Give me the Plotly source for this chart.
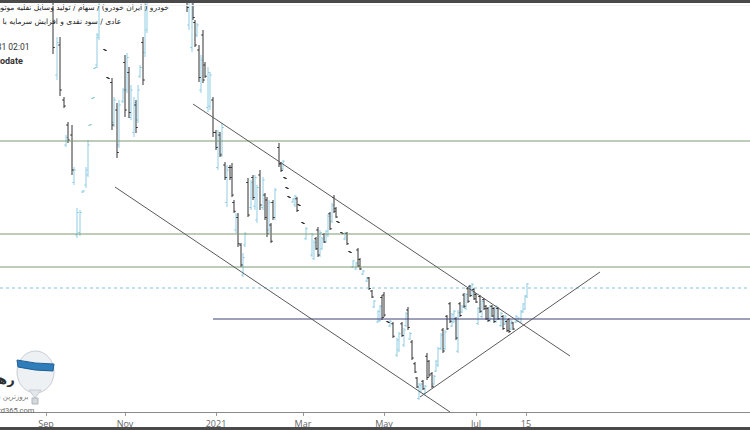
import plotly.graph_objects as go

# ---------------- data (bar index, price) ----------------
bar_x = [
    26.5, 28.5, 30, 32, 33, 34, 36, 37, 38.5, 40, 41.5, 43, 44, 45, 46.5, 47.5, 48.5, 49.5, 52.5, 54,
    56, 57, 58.5, 59.5, 61.5, 62.5, 63.5, 64.5, 65.5, 67, 68, 69, 70, 71.5, 72.5, 73.5,
    93.5, 94.5, 96, 96.5, 97.5, 98.5, 99.5, 100.5, 101.5, 102.5, 104, 105, 106.5, 108, 109, 110, 111,
    112.5, 113.5, 115, 116, 117, 118, 119, 120.5, 121.5, 122.5, 124, 125.5, 126.5, 127.5, 128.5, 130,
    131.5, 132.5, 133.5, 134.5, 135.5, 136.5, 137.5,
    139.5, 140.5, 141.5, 142.5, 143.5, 144.5, 146.5, 147.5, 148.5, 149.5, 151.5, 153, 156, 157, 158,
    159, 160, 161, 162, 163, 164, 165, 166, 167, 168, 169, 171, 172.5, 173.5, 175, 176.5, 178, 179, 180,
    181.5, 183.5, 184.5, 186, 187, 189, 190, 191, 192, 194,
    195, 196.5, 198.5, 199.5, 201, 202, 203, 204, 205, 206, 207.5, 208.5, 209.5, 210.5, 211.5, 212.5,
    213.5, 214.5, 216, 217, 218, 219, 220.5, 221.5, 222.5, 223.5, 225, 226, 227, 228, 229, 230, 231,
    232, 233, 234, 235, 236, 237, 238, 239, 240, 241, 242, 243, 244, 245, 246, 247, 248, 249, 250.5,
    251.5, 252.5, 253.5, 254.5, 255.5, 256.5, 258, 259, 260.5, 261.5, 262.5, 263.5,
]
bar_open = [
    3250, 2900, 3020, 2800, 2620, 2700, 2660, 2470, 2260, 2270, 2432, 2460, 2500, 2698, 2806, 2926, 2940, 3060, 3002, 2890,
    2870, 2710, 2760, 2620, 2795, 2950, 2840, 2910, 2730, 2670, 2780, 2720, 2895, 3030, 2990, 3080,
    3300, 3100, 3010, 3230, 3110, 3060, 3000, 2840, 3060, 2940, 2770, 2775, 2800, 2670, 2530, 2660, 2585, 2540, 2390, 2530,
    2530, 2390, 2280, 2330, 2220, 2100, 2220, 2470, 2370, 2490, 2375, 2320, 2500, 2370, 2420, 2400, 2280, 2300, 2390, 2330,
    2610, 2545, 2525, 2490, 2450, 2414, 2392, 2380, 2405, 2382, 2310, 2245, 2180, 2165, 2245, 2280, 2180, 2205, 2262, 2232,
    2260, 2345, 2315, 2410, 2365, 2314, 2270, 2244, 2266, 2194, 2132, 2124, 2200, 2162, 2104, 2076, 2088, 2036, 1972, 1912,
    1918, 2010, 2020, 1914,
    1896, 1905, 1780, 1800, 1905, 1820, 1898, 1960, 1844, 1832, 1745, 1688, 1606, 1632, 1675, 1625, 1775, 1755, 1705, 1664,
    1716, 1740, 1806, 1880, 1806, 1935, 1985, 1896, 1912, 1925, 1795, 1985, 1952, 2020, 1966, 2045, 2055, 2018, 2042, 2022,
    1906, 2014, 1934, 2002, 1975, 1966, 1918, 1975, 1966, 1914, 1966, 1898, 1934, 1904, 1914, 1922, 1884, 1908, 1912, 1915,
    1912, 1952, 1964, 2012,
]
bar_high = [
    3320, 3052, 3052, 2812, 2660, 2712, 2700, 2532, 2368, 2360, 2440, 2532, 2640, 2704, 2812, 2932, 3068, 3320, 3004, 2892,
    2888, 2812, 2788, 2800, 2848, 2980, 2988, 2932, 2860, 2812, 2800, 2860, 2940, 3052, 3280, 3360,
    3320, 3320, 3280, 3240, 3120, 3108, 3020, 2980, 3080, 2952, 2932, 2912, 2812, 2680, 2680, 2672, 2708, 2552, 2540, 2540,
    2548, 2400, 2348, 2348, 2228, 2188, 2272, 2488, 2480, 2500, 2500, 2460, 2520, 2492, 2428, 2412, 2400, 2308, 2400, 2448,
    2628, 2552, 2560, 2492, 2452, 2416, 2408, 2420, 2412, 2384, 2312, 2292, 2268, 2240, 2252, 2292, 2280, 2252, 2268, 2280,
    2344, 2352, 2388, 2420, 2372, 2316, 2272, 2272, 2272, 2196, 2160, 2152, 2208, 2168, 2120, 2092, 2092, 2040, 2000, 1960,
    1980, 2020, 2032, 1916,
    1920, 1912, 1848, 1872, 1912, 1888, 1952, 1972, 1872, 1840, 1752, 1692, 1668, 1668, 1680, 1660, 1788, 1760, 1712, 1700,
    1760, 1812, 1868, 1888, 1880, 1940, 1992, 1948, 1960, 1932, 1960, 1992, 1980, 2028, 2028, 2052, 2060, 2068, 2048, 2028,
    1972, 2020, 2000, 2008, 1980, 1972, 1980, 1980, 1972, 1980, 1972, 1952, 1940, 1940, 1920, 1928, 1920, 1912, 1940, 1932,
    1960, 1988, 2020, 2068,
]
bar_low = [
    2984, 2880, 2816, 2768, 2612, 2628, 2500, 2460, 2248, 2256, 2428, 2448, 2492, 2696, 2804, 2924, 2928, 3040, 2996, 2884,
    2680, 2692, 2568, 2608, 2788, 2732, 2828, 2728, 2720, 2652, 2668, 2708, 2888, 2860, 2972, 3068,
    3152, 3080, 2992, 3120, 3012, 3052, 2872, 2828, 2868, 2888, 2752, 2760, 2652, 2600, 2520, 2572, 2572, 2480, 2372, 2480,
    2412, 2348, 2268, 2212, 2132, 2092, 2212, 2332, 2360, 2400, 2360, 2308, 2360, 2360, 2320, 2252, 2268, 2228, 2320, 2320,
    2532, 2512, 2520, 2484, 2444, 2408, 2388, 2372, 2352, 2376, 2304, 2240, 2172, 2160, 2200, 2172, 2172, 2200, 2228, 2228,
    2252, 2280, 2308, 2348, 2328, 2308, 2264, 2240, 2220, 2188, 2128, 2120, 2132, 2120, 2100, 2072, 2040, 2008, 1968, 1908,
    1912, 1920, 1932, 1908,
    1892, 1848, 1772, 1792, 1852, 1812, 1892, 1880, 1840, 1760, 1708, 1648, 1600, 1628, 1640, 1620, 1680, 1692, 1648, 1660,
    1712, 1732, 1800, 1788, 1800, 1880, 1908, 1892, 1908, 1840, 1788, 1932, 1948, 1968, 1960, 1988, 2012, 2012, 2000, 1988,
    1900, 1948, 1928, 1960, 1920, 1912, 1912, 1932, 1908, 1908, 1920, 1892, 1880, 1900, 1872, 1868, 1880, 1880, 1908, 1912,
    1908, 1948, 1960, 2008,
]
bar_close = [
    3010, 3030, 2840, 2776, 2650, 2640, 2520, 2520, 2350, 2350, 2436, 2520, 2620, 2702, 2810, 2930, 3050, 3280, 2998, 2886,
    2700, 2800, 2590, 2780, 2840, 2760, 2970, 2750, 2840, 2790, 2690, 2840, 2930, 2880, 3250, 3340,
    3170, 3290, 3250, 3130, 3020, 3100, 2890, 2960, 2880, 2895, 2910, 2900, 2670, 2610, 2670, 2580, 2690, 2490, 2520, 2490,
    2420, 2355, 2340, 2225, 2140, 2170, 2265, 2340, 2470, 2410, 2490, 2450, 2380, 2480, 2330, 2265, 2390, 2235, 2330, 2440,
    2545, 2518, 2555, 2486, 2446, 2410, 2404, 2415, 2358, 2378, 2306, 2285, 2260, 2230, 2205, 2180, 2270, 2245, 2232, 2275,
    2335, 2285, 2380, 2355, 2332, 2310, 2266, 2268, 2225, 2190, 2156, 2148, 2136, 2124, 2116, 2088, 2046, 2012, 1996, 1955,
    1975, 1930, 1940, 1910,
    1915, 1855, 1840, 1865, 1858, 1880, 1945, 1890, 1866, 1768, 1712, 1652, 1660, 1664, 1645, 1655, 1690, 1700, 1655, 1695,
    1755, 1805, 1860, 1796, 1872, 1885, 1915, 1943, 1955, 1848, 1950, 1938, 1975, 1975, 2022, 1995, 2018, 2062, 2005, 1992,
    1966, 1955, 1994, 1965, 1925, 1918, 1974, 1936, 1914, 1975, 1925, 1946, 1886, 1935, 1878, 1874, 1915, 1884, 1935, 1928,
    1955, 1984, 2016, 2064,
]

# horizontal levels (price)
green_levels = [2636, 2264, 2132]
dotted_level = 2048
navy_level = 1924
navy_start = 106.5

# trend lines: (x0, y0) -> (x1, y1)
trend_x0 = [96.5, 57.5, 210]
trend_y0 = [2784, 2452, 1612]
trend_x1 = [285, 225, 300]
trend_y1 = [1776, 1552, 2112]

tick_pos = [23, 62.5, 108, 151.5, 192, 238, 263]
tick_text = ["Sep", "Nov", "2021", "Mar", "May", "Jul", "15"]

title_line1 = "خودرو ( ایران خودرو) / سهام / تولید وسایل نقلیه موتوری / بورس"
title_line2 = "عادی / سود نقدی و افزایش سرمایه با احتساب"

assert len(bar_x) == len(bar_open) == len(bar_high) == len(bar_low) == len(bar_close)

# ---------------- figure ----------------
W, H = 750, 430
PLOT_H = 412
X_RANGE = [0, 375]
Y_RANGE = [1552, 3200]
TICK_W = 0.9


def seg_arrays(up):
    xs, ys = [], []
    for x, o, h, l, c in zip(bar_x, bar_open, bar_high, bar_low, bar_close):
        if (c > o) != up:
            continue
        xs += [x, x, None, x - TICK_W, x, None, x, x + TICK_W, None]
        ys += [l, h, None, o, o, None, c, c, None]
    return xs, ys


fig = go.Figure()
for up, col in [(True, "#8fcde3"), (False, "#333333")]:
    xs, ys = seg_arrays(up)
    fig.add_trace(go.Scatter(x=xs, y=ys, mode="lines", line=dict(color=col, width=1),
                             hoverinfo="skip", showlegend=False))

shapes = []
for lv in green_levels:
    shapes.append(dict(type="line", xref="paper", x0=0, x1=1, yref="y", y0=lv, y1=lv,
                       line=dict(color="#7d9a72", width=1)))
shapes.append(dict(type="line", xref="paper", x0=0, x1=1, yref="y", y0=dotted_level, y1=dotted_level,
                   line=dict(color="#7cc3df", width=1, dash="dot")))
shapes.append(dict(type="line", xref="x", x0=navy_start, x1=X_RANGE[1], yref="y", y0=navy_level, y1=navy_level,
                   line=dict(color="#3e4178", width=1)))
for a, b, c, d in zip(trend_x0, trend_y0, trend_x1, trend_y1):
    shapes.append(dict(type="line", xref="x", yref="y", x0=a, y0=b, x1=c, y1=d,
                       line=dict(color="#5a5a5a", width=1)))


def px(xp):
    return xp / W


def py(yp):
    return 1 - yp / PLOT_H


# logo balloon
shapes.append(dict(type="circle", xref="paper", yref="paper", x0=px(17), x1=px(54), y0=py(393), y1=py(351),
                   fillcolor="#eef1f4", line=dict(color="#c8cdd3", width=1)))
band = "M {} {} Q {} {} {} {} L {} {} Q {} {} {} {} Z".format(
    px(17), py(360), px(35), py(364), px(54), py(364),
    px(53), py(371), px(35), py(371), px(18), py(367))
shapes.append(dict(type="path", xref="paper", yref="paper", path=band,
                   fillcolor="#2f7dba", line=dict(color="#1f5f95", width=1)))
tail = "M {} {} L {} {} L {} {} Z".format(px(29), py(390), px(41), py(390), px(35), py(398))
shapes.append(dict(type="path", xref="paper", yref="paper", path=tail,
                   fillcolor="#e3e7eb", line=dict(color="#c8cdd3", width=1)))
shapes.append(dict(type="rect", xref="paper", yref="paper", x0=px(32), x1=px(38), y0=py(404), y1=py(398),
                   fillcolor="#d5d9de", line=dict(color="#b0b5bb", width=1)))

annotations = [
    dict(text=title_line1, xref="paper", yref="paper", x=px(171), y=py(8), xanchor="right", yanchor="middle",
         showarrow=False, font=dict(family="DejaVu Sans", size=7.5, color="#222")),
    dict(text=title_line2, xref="paper", yref="paper", x=px(123), y=py(22), xanchor="right", yanchor="middle",
         showarrow=False, font=dict(family="DejaVu Sans", size=7.5, color="#222")),
    dict(text="1400/05/31 02:01", xref="paper", yref="paper", x=px(32), y=py(47), xanchor="right",
         yanchor="middle", showarrow=False, font=dict(family="Roboto", size=8.5, color="#333")),
    dict(text="<b>Autodate</b>", xref="paper", yref="paper", x=px(25), y=py(61), xanchor="right",
         yanchor="middle", showarrow=False, font=dict(family="Roboto", size=9, color="#333")),
    dict(text="<b>رهآورد</b>", xref="paper", yref="paper", x=px(17), y=py(379), xanchor="right",
         yanchor="middle", showarrow=False, font=dict(family="DejaVu Sans", size=13, color="#2e2e2e")),
    dict(text="بروزترین سامانه", xref="paper", yref="paper", x=px(31), y=py(397), xanchor="right",
         yanchor="middle", showarrow=False, font=dict(family="DejaVu Sans", size=7, color="#777")),
    dict(text="rahavard365.com", xref="paper", yref="paper", x=px(37), y=py(410), xanchor="right",
         yanchor="middle", showarrow=False, font=dict(family="Roboto", size=7.5, color="#666")),
]

fig.update_layout(
    width=W, height=H,
    margin=dict(l=0, r=0, t=0, b=H - PLOT_H),
    paper_bgcolor="white", plot_bgcolor="white",
    showlegend=False,
    shapes=shapes, annotations=annotations,
    xaxis=dict(range=X_RANGE, showgrid=False, zeroline=False, showline=True, linecolor="#8a8a8a",
               linewidth=1, ticks="outside", ticklen=3, tickcolor="#9a9a9a",
               tickvals=tick_pos, ticktext=tick_text,
               tickfont=dict(family="Open Sans", size=9, color="#666"), fixedrange=True),
    yaxis=dict(range=Y_RANGE, visible=False, showgrid=False, zeroline=False, fixedrange=True),
)

# page setup: no body margin, plus the dark frame bands at the top and bottom edges of the screenshot
post = """
document.body.style.margin='0';
document.body.style.overflow='hidden';
function band(top, h, col){
  var d=document.createElement('div');
  d.style.cssText='position:fixed;left:0;width:750px;z-index:50;pointer-events:none;top:'+top+'px;height:'+h+'px;background:'+col+';';
  document.body.appendChild(d);
}
band(0, 3, '#4a4a4a');
band(5, 1, '#f2f2f2');
band(427, 3, '#4a4a4a');
"""
fig.write_html("out.html", config={"displayModeBar": False}, post_script=post)
